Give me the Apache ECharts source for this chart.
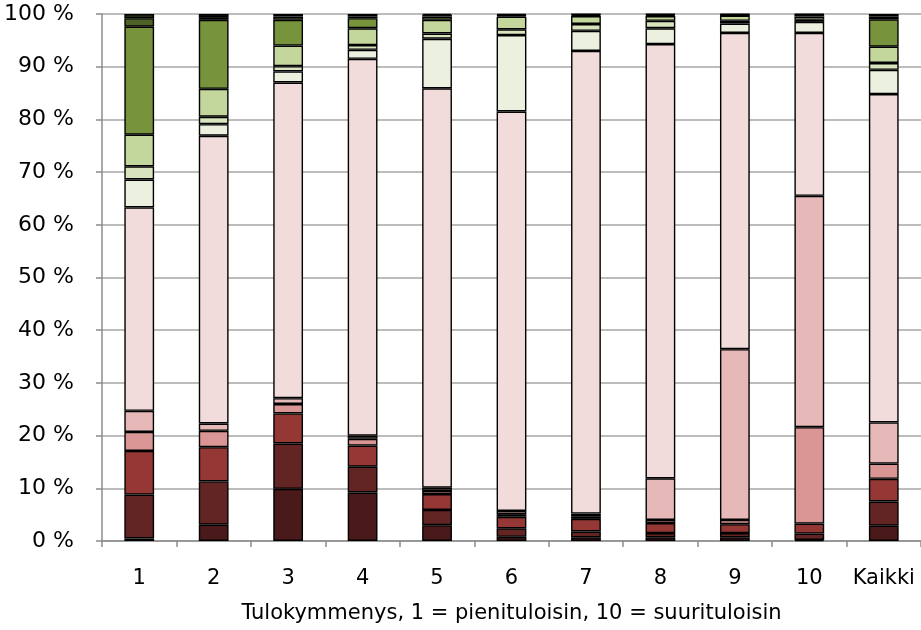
<!DOCTYPE html>
<html>
<head>
<meta charset="utf-8">
<script src="https://cdn.jsdelivr.net/npm/echarts@6/dist/echarts.min.js"></script>
<style>html,body{margin:0;padding:0;background:#fff}#c{width:921px;height:630px}</style>
</head>
<body>
<div id="c"></div>
<script>
const categories = ['1','2','3','4','5','6','7','8','9','10','Kaikki'];
const yTicks = [0,10,20,30,40,50,60,70,80,90,100];
const xAxisTitle = 'Tulokymmenys, 1 = pienituloisin, 10 = suurituloisin';

const s1  = [0.5,3.1,9.9,9.2,3.0,0.8,0.7,0.7,0.7,0.2,2.9];
const s2  = [8.3,8.2,8.6,4.9,2.9,1.6,1.1,0.8,0.8,1.2,4.6];
const s3  = [8.3,6.5,5.7,4.0,3.0,2.2,2.4,1.9,1.7,1.9,4.3];
const s4  = [3.6,3.1,1.8,1.3,0.6,0.5,0.5,0.6,0.8,18.3,2.9];
const s5  = [4.0,1.4,1.1,0.6,0.6,0.6,0.5,7.9,32.4,43.9,7.8];
const s6  = [38.6,54.6,59.9,71.5,75.8,75.8,87.8,82.4,60.0,30.9,62.3];
const s7  = [5.3,2.2,2.1,1.7,9.4,14.5,3.8,3.0,1.8,2.1,4.6];
const s8  = [2.5,1.4,1.0,0.9,1.0,1.1,1.3,1.4,0.5,0.4,1.3];
const s9  = [6.0,5.3,3.9,3.2,2.6,2.4,1.5,0.9,1.0,0.6,3.1];
const s10 = [20.5,13.1,4.9,1.9,0.6,0.2,0.2,0.2,0.1,0.3,5.2];
const s11 = [1.6,0.5,0.6,0.3,0.3,0.1,0.1,0.1,0.1,0.1,0.5];
const s12 = [0.8,0.6,0.5,0.5,0.2,0.2,0.1,0.1,0.1,0.1,0.5];

const seriesValues = [s1,s2,s3,s4,s5,s6,s7,s8,s9,s10,s11,s12];
const seriesNames = ['Luokka 1','Luokka 2','Luokka 3','Luokka 4','Luokka 5','Luokka 6','Luokka 7','Luokka 8','Luokka 9','Luokka 10','Luokka 11','Luokka 12'];
const colors = ['#4a1919','#632523','#953735','#d99694','#e6b9b8','#f2dcdb','#ebf1de','#d7e4bd','#c3d69b','#77933c','#4f6228','#2f3a18'];

const FONT = 'DejaVu Sans';
const chart = echarts.init(document.getElementById('c'), null, {renderer:'canvas'});
chart.setOption({
  animation:false,
  backgroundColor:'#fff',
  grid:{left:102,right:0,top:14,bottom:89,containLabel:false},
  xAxis:{
    type:'category',
    data:categories,
    boundaryGap:true,
    name:xAxisTitle,
    nameLocation:'middle',
    nameGap:62,
    nameTextStyle:{fontFamily:FONT,fontSize:21,color:'#000'},
    axisLine:{show:true,lineStyle:{color:'#8c8c8c',width:1.5}},
    axisTick:{show:true,interval:0,length:6,lineStyle:{color:'#8c8c8c',width:1.5}},
    axisLabel:{interval:0,fontFamily:FONT,fontSize:21,color:'#000',margin:27}
  },
  yAxis:{
    type:'value',
    min:yTicks[0],max:yTicks[yTicks.length-1],interval:10,
    axisLine:{show:true,lineStyle:{color:'#8c8c8c',width:1.5}},
    axisTick:{show:true,length:6,lineStyle:{color:'#8c8c8c',width:1.5}},
    splitLine:{show:true,lineStyle:{color:'#a6a6a6',width:1.5}},
    axisLabel:{fontFamily:FONT,fontSize:22,color:'#000',margin:28,formatter:v=>v+' %'}
  },
  series:seriesValues.map((d,i)=>({
    name:seriesNames[i],
    type:'bar',
    stack:'total',
    barWidth:'40%',
    data:d,
    itemStyle:{color:colors[i],borderColor:'#000',borderWidth:1.4}
  }))
});
</script>
</body>
</html>
